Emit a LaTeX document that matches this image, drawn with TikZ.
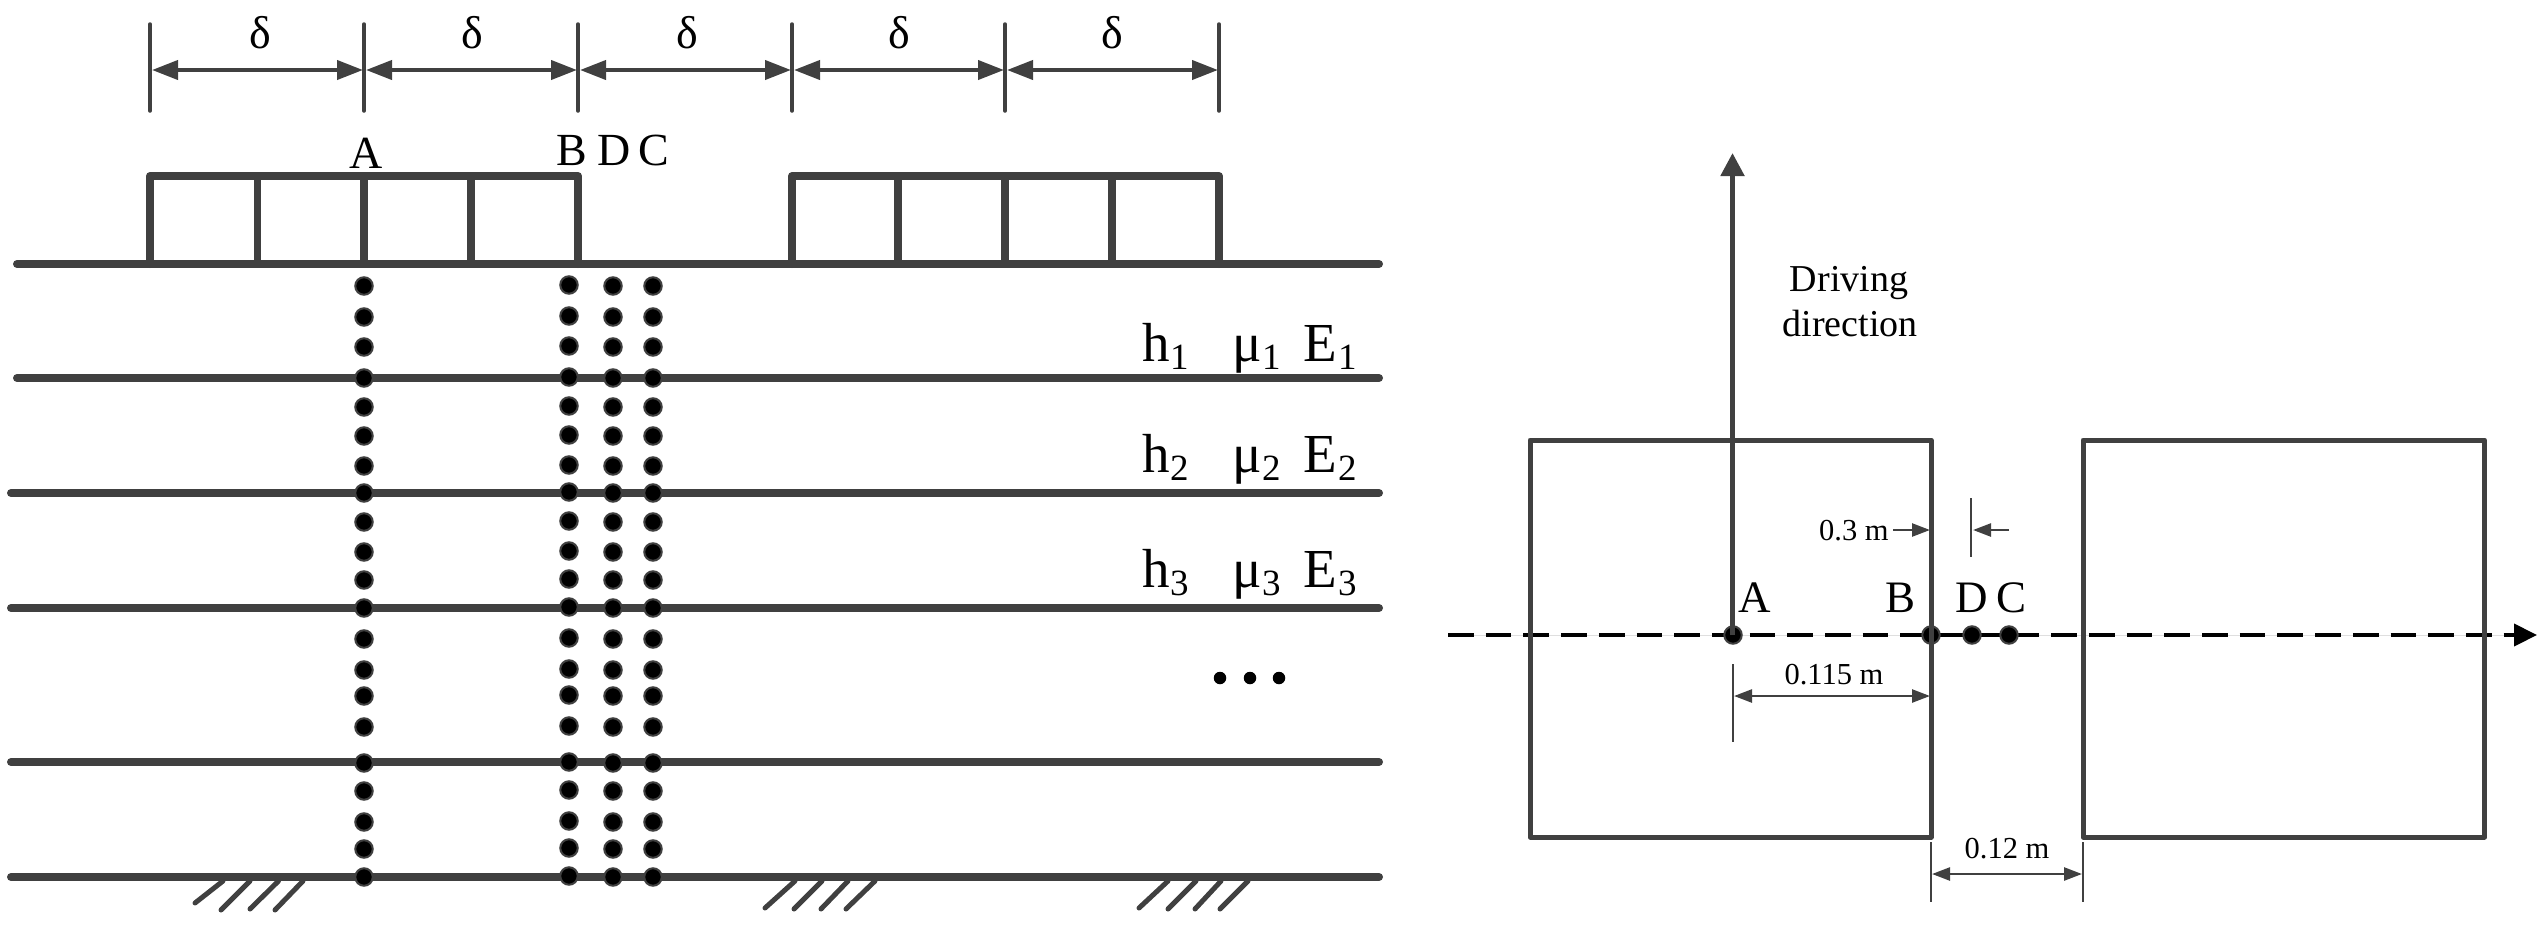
\documentclass[tikz,border=0pt]{standalone}
\usepackage{fontspec}
\setmainfont{Liberation Serif}
\usetikzlibrary{arrows.meta}
\definecolor{ink}{HTML}{404040}
\newcommand\szf[1]{\fontsize{#1}{#1}\selectfont}
\tikzset{
  thick line/.style={draw=ink,line width=8pt,line cap=round,line join=round},
  box line/.style={draw=ink,line width=5pt,line join=round},
  tick line/.style={draw=ink,line width=2.5pt},
  hatch line/.style={draw=ink,line width=5pt,line cap=round},
  dim big/.style={draw=ink,line width=4pt,{Triangle[length=26pt,width=19pt,fill=ink]}-{Triangle[length=26pt,width=19pt,fill=ink]},shorten <=2pt,shorten >=1pt},
  dim small/.style={draw=ink,line width=2.5pt,{Triangle[length=18pt,width=13pt,fill=ink]}-{Triangle[length=18pt,width=13pt,fill=ink]}},
  dim one/.style={draw=ink,line width=2.5pt,-{Triangle[length=18pt,width=13pt,fill=ink]}},
  dotnode/.style={circle,fill=black,draw=ink,line width=2pt,minimum size=17.5pt,inner sep=0pt},
  ell/.style={circle,fill=black,minimum size=12.5pt,inner sep=0pt},
  lab/.style={anchor=base west,inner sep=0pt,text=black},
  labc/.style={anchor=base,inner sep=0pt,text=black},
  big/.style={font=\szf{46}},
  sym/.style={font=\szf{55}},
  sub/.style={font=\szf{37}},
  dimtxt/.style={font=\szf{30.5}},
  drv/.style={font=\szf{38}},
}
\begin{document}
\begin{tikzpicture}[x=1pt,y=-1pt]
\useasboundingbox (0,0) rectangle (2543,927);
% --- left: dimension ticks and arrows
\foreach \n/\x in {0/150,1/364,2/578,3/792,4/1005,5/1219}{
  \coordinate (dt\n) at (\x,24);
  \coordinate (db\n) at (\x,111);
  \coordinate (dm\n) at (\x,70);
  \draw[draw=ink,line width=3.5pt,line cap=round] (dt\n) -- (db\n);
}
\foreach \a/\b in {0/1,1/2,2/3,3/4,4/5}{\draw[dim big] (dm\a) -- (dm\b);}
\foreach \n/\x in {1/260,2/472,3/687,4/899,5/1112}{
  \node[labc,big] (delta\n) at (\x,48) {δ};
}
% --- left: layers
\foreach \n/\y/\s in {0/264/17,1/378/17,2/493/11,3/608/11,4/762/11,5/877/11}{
  \coordinate (ll\n) at (\s,\y);
  \coordinate (lr\n) at (1379,\y);
  \draw[thick line] (ll\n) -- (lr\n);
}
% --- left: load blocks
\coordinate (b1a) at (150,176); \coordinate (b1b) at (578,176);
\coordinate (b1c) at (578,264); \coordinate (b1d) at (150,264);
\draw[thick line] (b1d) -- (b1a) -- (b1b) -- (b1c);
\foreach \x in {257.5,364,471}{\draw[draw=ink,line width=7.5pt] (\x,176) -- (\x,264);}
\coordinate (b2a) at (792,176); \coordinate (b2b) at (1219,176);
\coordinate (b2c) at (1219,264); \coordinate (b2d) at (792,264);
\draw[thick line] (b2d) -- (b2a) -- (b2b) -- (b2c);
\foreach \x in {898,1005,1112}{\draw[draw=ink,line width=7.5pt] (\x,176) -- (\x,264);}
% --- left: point columns
\foreach \c/\x/\o in {a/364/0,b/569/1,d/613/0,c/653/0}{
  \foreach \y [count=\i] in {286,317,347,378,407,436,466,493,522,552,580,608,639,670,696,727,763,791,822,849,877}{
    \node[dotnode,yshift=\o pt] (col\c\i) at (\x,\y) {};
  }
}
% --- left: ground hatching
\foreach \xa/\xb/\yb in {223/195/903,250/221/910,278.5/250/909,303/275/910,
                         795/765/908,822/794/909,848/821/909,875/846/909,
                         1168/1139/908,1196/1168/909,1221/1195/909,1248/1220/909}{
  \draw[hatch line] (\xa,881) -- (\xb,\yb);
}
% --- left: labels
\node[labc,big] (topA) at (366,168) {A};
\node[lab,big] (topB) at (556,165) {B};
\node[lab,big] (topD) at (597,165) {D};
\node[lab,big] (topC) at (638,165) {C};
\foreach \n/\y in {1/361,2/472,3/587}{
  \node[lab,sym] (h\n) at (1142,\y) {h};
  \node[lab,sub] (hs\n) at (1170,\y+8) {\n};
  \node[lab,sym] (mu\n) at (1232,\y) {μ};
  \node[lab,sub] (mus\n) at (1262,\y+8) {\n};
  \node[lab,sym] (e\n) at (1303,\y) {E};
  \node[lab,sub] (es\n) at (1338,\y+8) {\n};
}
\node[ell] (ell1) at (1220,678) {};
\node[ell] (ell2) at (1250,678) {};
\node[ell] (ell3) at (1279,678) {};
% --- right: axis
\coordinate (axl) at (1448,635);
\coordinate (axr) at (2537,635);
\draw[draw=black,fill=black,line width=4pt,dash pattern=on 25.7pt off 12pt,-{Triangle[length=23pt,width=22pt,fill=black]}] (axl) -- (axr);
\coordinate (sa) at (1901,635); \coordinate (sb) at (2039,635);
\draw[draw=black,line width=4pt] (sa) -- (sb);
\node[dotnode] (pA) at (1733,635) {};
\node[dotnode] (pB) at (1931,635) {};
\node[dotnode] (pD) at (1972,635) {};
\node[dotnode] (pC) at (2009,635) {};
% --- right: boxes
\coordinate (ba) at (1530,440); \coordinate (bb) at (1931,837);
\coordinate (bc) at (2083,440); \coordinate (bd) at (2484.5,837);
\draw[box line] (ba) rectangle (bb);
\draw[box line] (bc) rectangle (bd);
% --- right: driving arrow
\coordinate (upfoot) at (1732.5,635);
\coordinate (up) at (1732.5,153);
\draw[draw=ink,line width=5pt,-{Triangle[length=23pt,width=23pt,fill=ink]}] (upfoot) -- (up);
\node[labc,drv] (drv1) at (1849,291) {Driving};
\node[labc,drv] (drv2) at (1850,336) {direction};
% --- right: dimensions
\node[lab,font=\szf{45}] (rA) at (1738,612) {A};
\node[lab,font=\szf{45}] (rB) at (1885,612) {B};
\node[lab,font=\szf{45}] (rD) at (1955,612) {D};
\node[lab,font=\szf{45}] (rC) at (1996,612) {C};
\node[lab,dimtxt] (t03) at (1819,540) {0.3 m};
\coordinate (a03) at (1893,530); \coordinate (b03) at (1930,530);
\draw[dim one] (a03) -- (b03);
\coordinate (c03t) at (1971,498); \coordinate (c03b) at (1971,557);
\draw[tick line] (c03t) -- (c03b);
\coordinate (d03) at (2009,530); \coordinate (e03) at (1973,530);
\draw[dim one] (d03) -- (e03);
\node[labc,dimtxt] (t115) at (1834,684) {0.115 m};
\coordinate (a115t) at (1733,664); \coordinate (a115b) at (1733,742);
\draw[tick line] (a115t) -- (a115b);
\coordinate (a115l) at (1734,696); \coordinate (a115r) at (1930,696);
\draw[dim small] (a115l) -- (a115r);
\node[labc,dimtxt] (t12) at (2007,858) {0.12 m};
\coordinate (a12t) at (1931,842); \coordinate (a12b) at (1931,902);
\coordinate (b12t) at (2083,842); \coordinate (b12b) at (2083,902);
\draw[tick line] (a12t) -- (a12b);
\draw[tick line] (b12t) -- (b12b);
\coordinate (a12l) at (1932,874); \coordinate (a12r) at (2082,874);
\draw[dim small] (a12l) -- (a12r);
\end{tikzpicture}
\end{document}
